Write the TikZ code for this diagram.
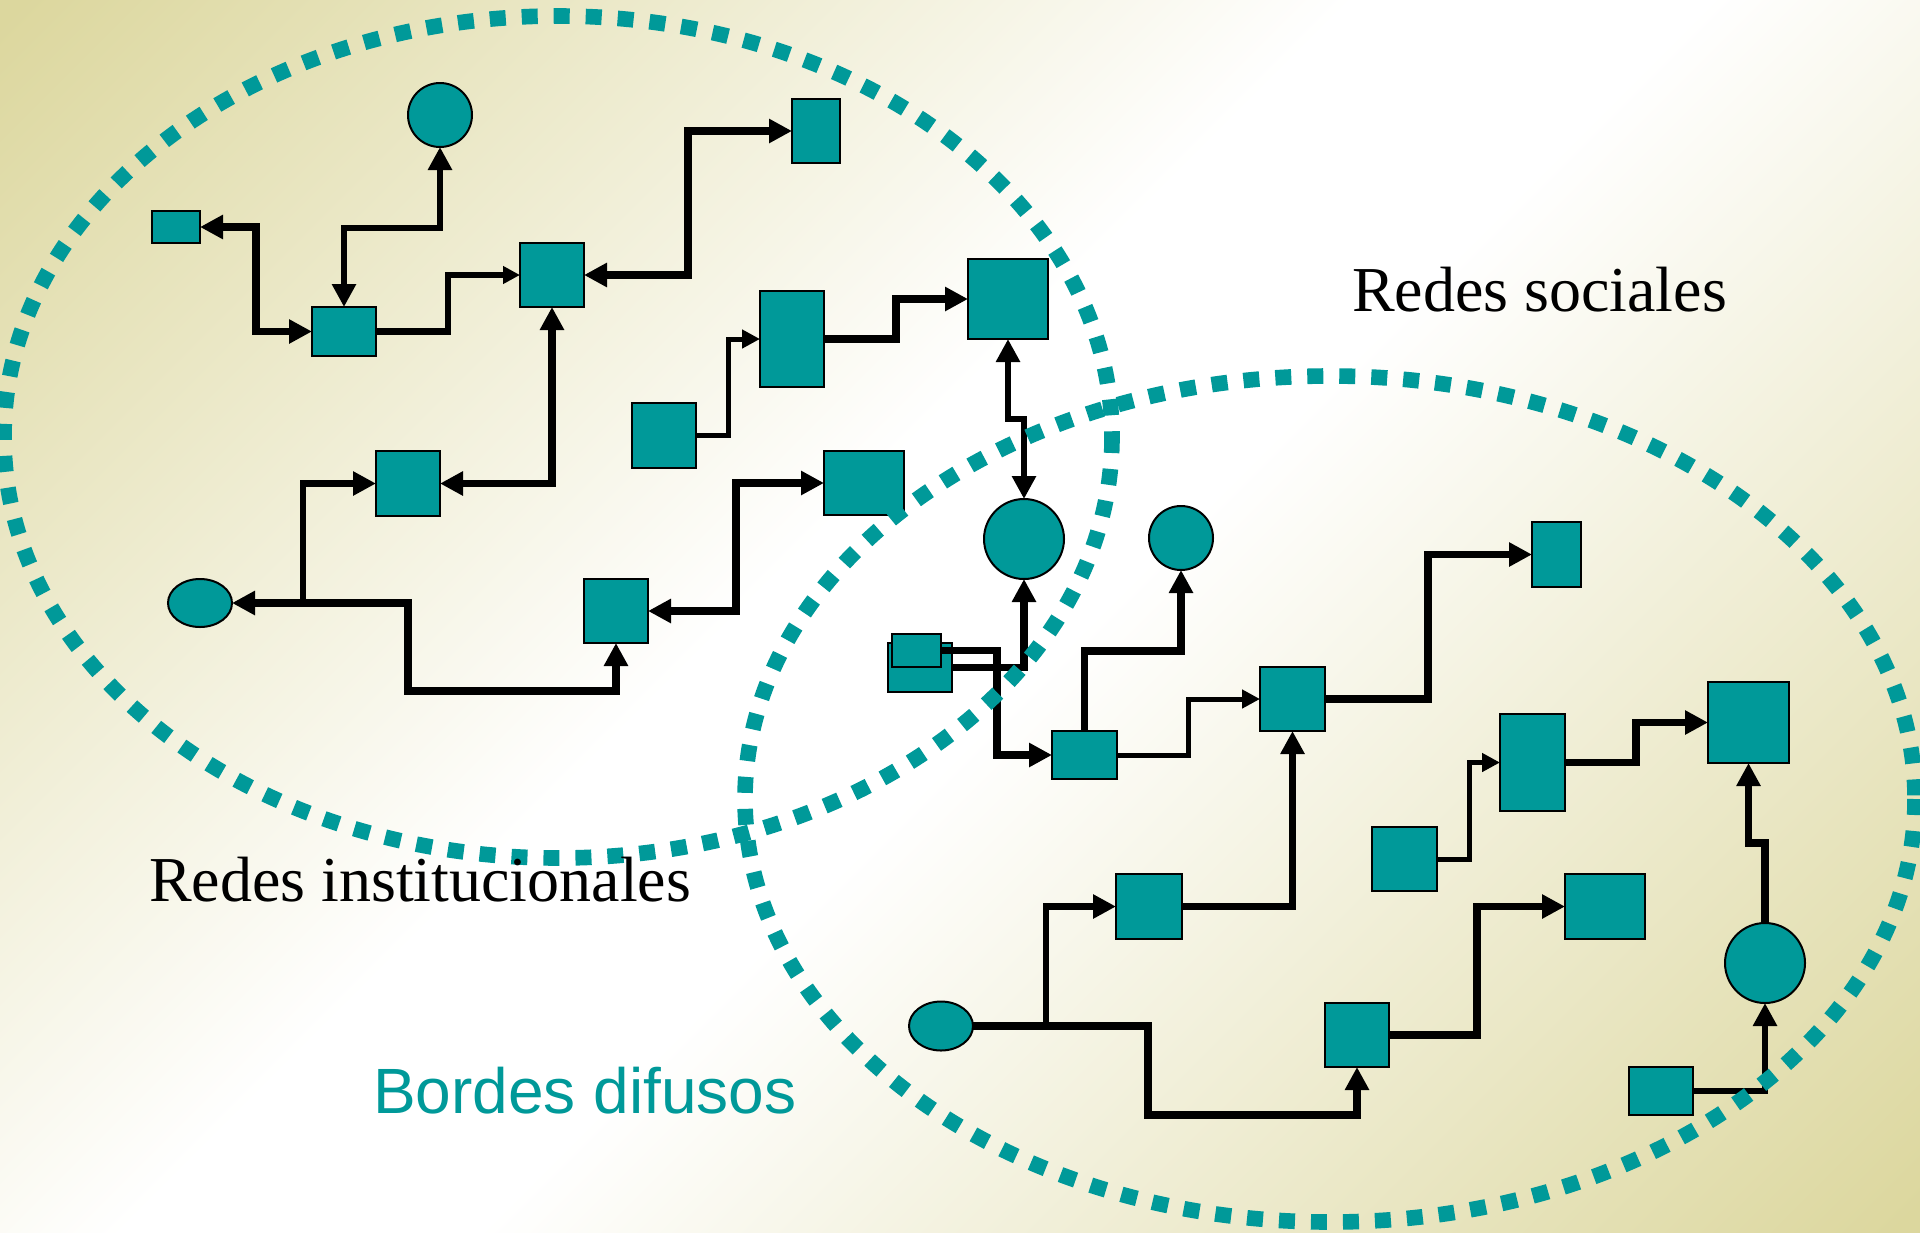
\documentclass[tikz,border=0pt]{standalone}
\usepackage{fontspec}
\setmainfont{Liberation Serif}
\newfontfamily\arialf{Liberation Sans}
\usetikzlibrary{arrows.meta,shapes.geometric}
\definecolor{teal1}{RGB}{0,153,153}
\definecolor{kh}{RGB}{220,215,158}
\pgfdeclareverticalshading{bgsh}{100bp}{color(0bp)=(kh); color(15bp)=(kh); color(47bp)=(white); color(55bp)=(white); color(85bp)=(kh); color(100bp)=(kh)}
\begin{document}
\begin{tikzpicture}[x=0.5pt,y=-0.5pt,
  bx/.style={draw=black, line width=1pt, fill=teal1, rectangle, inner sep=0pt, outer sep=0pt},
  crc/.style={draw=black, line width=1pt, fill=teal1, circle, inner sep=0pt, outer sep=0pt},
  elp/.style={draw=black, line width=1pt, fill=teal1, ellipse, inner sep=0pt, outer sep=0pt},
  lk/.style={draw=black, line width=3.8pt, >={Triangle[length=11.5pt,width=11.5pt]}},
  lkm/.style={draw=black, line width=3.3pt, >={Triangle[length=11.5pt,width=11.5pt]}},
  lkt/.style={draw=black, line width=2.5pt, >={Triangle[length=9pt,width=9pt]}},
  sa/.style={>={Triangle[length=8.5pt,width=8.5pt]}},
  dotl/.style={draw=teal1, line width=7.8pt, dash pattern=on 8pt off 8pt},
  lbl/.style={anchor=base west, inner sep=0pt, outer sep=0pt}
]
\useasboundingbox (0,0) rectangle (1920,1232);
\shade[shading=bgsh, shading angle=45] (0,0) rectangle (1920,1232);

% left network
\node[crc, minimum size=32pt] (c1) at (440,115) {};
\node[bx, minimum width=24pt, minimum height=16pt] (rs) at (176,227) {};
\node[bx, minimum width=32pt, minimum height=24.5pt] (A) at (344,331.5) {};
\node[bx, minimum width=32pt, minimum height=32pt] (B) at (552,275) {};
\node[bx, minimum width=24pt, minimum height=32pt] (C) at (816,131) {};
\node[bx, minimum width=32pt, minimum height=48pt] (D) at (792,339) {};
\node[bx, minimum width=40pt, minimum height=40pt] (E) at (1008,299) {};
\node[bx, minimum width=32pt, minimum height=32.5pt] (F) at (664,435.5) {};
\node[bx, minimum width=40pt, minimum height=32pt] (G) at (864,483) {};
\node[bx, minimum width=32pt, minimum height=32.5pt] (H) at (408,483.5) {};
\node[bx, minimum width=32pt, minimum height=32pt] (I) at (616,611) {};
\node[elp, minimum width=32pt, minimum height=24pt] (e1) at (200,603) {};

% middle
\node[crc, minimum size=40pt] (J) at (1024,539) {};
\node[crc, minimum size=32pt] (K) at (1181,538) {};
\node[bx, minimum width=32pt, minimum height=24.5pt] (L) at (920,667.5) {};
\node[bx, minimum width=24.5pt, minimum height=16.5pt] (M) at (916.5,650.5) {};
\node[bx, minimum width=32.5pt, minimum height=24pt] (N) at (1084.5,755) {};
\node[bx, minimum width=32.5pt, minimum height=32pt] (O) at (1292.5,699) {};

% right network
\node[bx, minimum width=24.5pt, minimum height=32.5pt] (P) at (1556.5,554.5) {};
\node[bx, minimum width=32.5pt, minimum height=48.5pt] (Q) at (1532.5,762.5) {};
\node[bx, minimum width=40.5pt, minimum height=40.5pt] (R) at (1748.5,722.5) {};
\node[bx, minimum width=32.5pt, minimum height=32pt] (S) at (1404.5,859) {};
\node[bx, minimum width=40pt, minimum height=32.5pt] (U) at (1605,906.5) {};
\node[crc, minimum size=40pt] (T) at (1765,963) {};
\node[elp, minimum width=32pt, minimum height=24.5pt] (V) at (941,1026) {};
\node[bx, minimum width=33pt, minimum height=32.5pt] (W) at (1149,906.5) {};
\node[bx, minimum width=32pt, minimum height=32pt] (X) at (1357,1035) {};
\node[bx, minimum width=32pt, minimum height=24pt] (Y) at (1661,1091) {};

% connectors left
\draw[lk, <->] (rs.east) -| (256,280) |- (A.west);
\draw[lkm, <->] (c1.south) |- (390,228) -| (A.north);
\draw[lkm, sa, ->] (A.east) -| (448,300) |- (B.west);
\draw[lk, <->] (B.east) -| (688,200) |- (C.west);
\draw[lk, <->] (B.south) |- (H.east);
\coordinate (j1) at (303,603);
\draw[lk, ->] (j1) -- (e1.east);
\draw[lkm, ->] (j1) |- (H.west);
\draw[lk, ->] (j1) -- (408,603) |- (520,691) -| (I.south);
\draw[lk, <->] (I.east) -| (736,550) |- (G.west);
\draw[lkt, ->] (F.east) -| (728,400) |- (D.west);
\draw[lk, ->] (D.east) -| (896,320) |- (E.west);
\draw[lkm, <->] (E.south) -- (1008,419) -| (J.north);

% connectors middle
\draw[lk, ->] (L.east) -| (J.south);
\draw[lk, ->] (M.east) -| (997,700) |- (N.west);
\draw[lk, ->] (N.north) |- (1130,651) -| (K.south);
\draw[lkt, ->] (N.east) -| (1188,720) |- (O.west);

% connectors right
\draw[lk, ->] (O.east) -| (1428,620) |- (P.west);
\draw[lkm, ->] (W.east) -| (O.south);
\coordinate (j2) at (1046,1026);
\draw[lk] (V.east) -- (j2);
\draw[lkm, ->] (j2) |- (W.west);
\draw[lk, ->] (j2) -- (1148,1026) |- (1250,1115) -| (X.south);
\draw[lk, ->] (X.east) -| (1477,970) |- (U.west);
\draw[lkt, ->] (S.east) -| (1469,810) |- (Q.west);
\draw[lk, ->] (Q.east) -| (1636,740) |- (R.west);
\draw[lk, ->] (T.north) |- (1757,843) -| (R.south);
\draw[lkm, ->] (Y.east) -| (T.south);

% dotted borders
\draw[dotl] (558,437) ellipse [x radius=554, y radius=421];
\draw[dotl] (1330,799) ellipse [x radius=585, y radius=423];

% labels
\node[lbl, font=\fontsize{32pt}{38pt}\selectfont] (t1) at (1352,311) {Redes sociales};
\node[lbl, font=\fontsize{32pt}{38pt}\selectfont] (t2) at (149,901) {Redes institucionales};
\node[lbl, text=teal1, font=\arialf\fontsize{32pt}{38pt}\selectfont] (t3) at (373,1113) {Bordes difusos};
\end{tikzpicture}
\end{document}
